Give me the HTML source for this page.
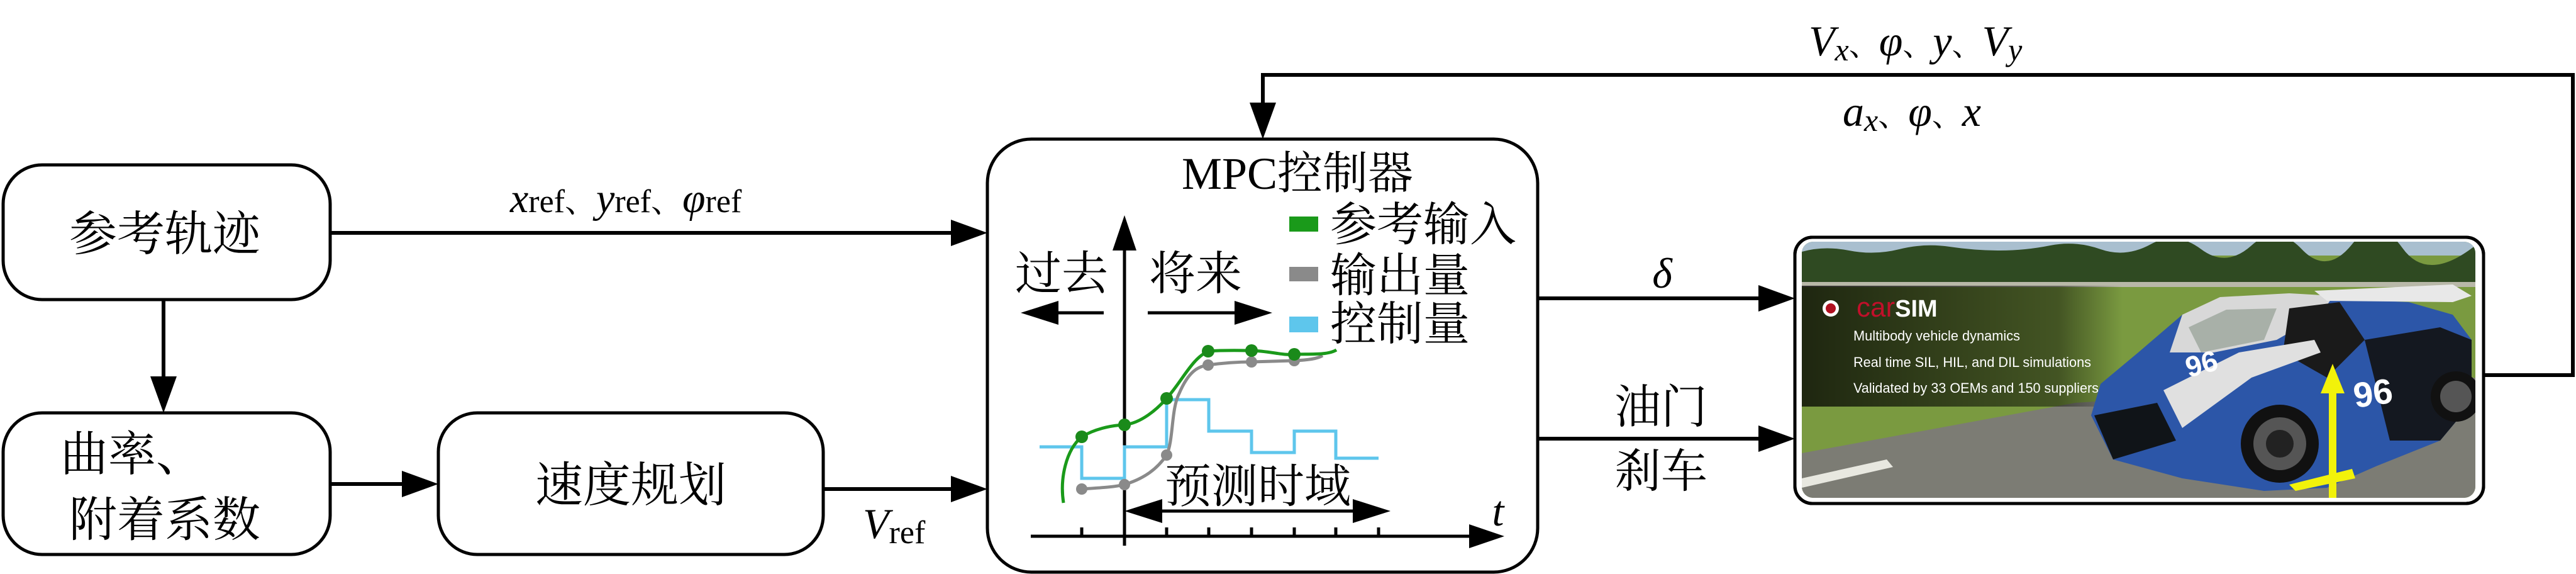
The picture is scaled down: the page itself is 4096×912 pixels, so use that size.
<!DOCTYPE html>
<html><head><meta charset="utf-8"><style>
html,body{margin:0;padding:0;background:#fff;}
svg{display:block;}
.cn{font-family:"Liberation Serif","Noto Serif CJK SC",serif;}
.it{font-family:"Liberation Serif",serif;font-style:italic;}
.rm{font-family:"Liberation Serif",serif;}
</style></head><body>
<svg width="4096" height="912" viewBox="0 0 4096 912" xmlns="http://www.w3.org/2000/svg">
<defs>
<linearGradient id="ov" x1="0" x2="1" y1="0" y2="0">
<stop offset="0" stop-color="#000" stop-opacity="0.75"/><stop offset="0.8" stop-color="#000" stop-opacity="0.45"/><stop offset="1" stop-color="#000" stop-opacity="0"/>
</linearGradient>
<clipPath id="imgclip"><rect x="2865" y="384" width="1071" height="407" rx="18"/></clipPath>
</defs>

<g fill="none" stroke="#000" stroke-width="5">
<rect x="5" y="262" width="520" height="214" rx="62"/>
<rect x="5" y="656" width="520" height="225" rx="62"/>
<rect x="697" y="656" width="612" height="225" rx="62"/>
<rect x="1570" y="221" width="875" height="688" rx="70"/>
</g>

<g stroke="#000" stroke-width="6" fill="none">
<line x1="525" y1="370" x2="1545" y2="370"/>
<line x1="260" y1="476" x2="260" y2="600"/>
<line x1="525" y1="769" x2="640" y2="769"/>
<line x1="1309" y1="777" x2="1545" y2="777"/>
<line x1="2445" y1="474" x2="2800" y2="474"/>
<line x1="2445" y1="697" x2="2800" y2="697"/>
<polyline points="3947,596 4091,596 4091,119 2008,119 2008,165"/>
</g>
<g fill="#000">
<polygon points="1570,370 1512,349 1512,391"/>
<polygon points="260,656 239,598 281,598"/>
<polygon points="697,769 639,748 639,790"/>
<polygon points="1570,777 1512,756 1512,798"/>
<polygon points="2854,474 2796,453 2796,495"/>
<polygon points="2854,697 2796,676 2796,718"/>
<polygon points="2008,221 1987,163 2029,163"/>
</g>

<text x="262" y="398" class="cn" font-size="76" text-anchor="middle">参考轨迹</text>
<text x="210" y="748" class="cn" font-size="76" text-anchor="middle">曲率、</text>
<text x="262" y="852" class="cn" font-size="76" text-anchor="middle">附着系数</text>
<text x="1003" y="797" class="cn" font-size="76" text-anchor="middle">速度规划</text>

<text x="811" y="337" font-size="66"><tspan class="it">x</tspan><tspan class="rm" font-size="52">ref</tspan><tspan class="cn" font-size="50">、</tspan><tspan class="it">y</tspan><tspan class="rm" font-size="52">ref</tspan><tspan class="cn" font-size="50">、</tspan><tspan class="it">φ</tspan><tspan class="rm" font-size="52">ref</tspan></text>
<text x="1372" y="855" font-size="68"><tspan class="it">V</tspan><tspan class="rm" font-size="52" dy="8">ref</tspan></text>

<text x="2876" y="88" font-size="68"><tspan class="it">V</tspan><tspan class="it" font-size="50" dy="8">x</tspan><tspan class="cn" font-size="48" dy="-8">、</tspan><tspan class="it">φ</tspan><tspan class="cn" font-size="48">、</tspan><tspan class="it">y</tspan><tspan class="cn" font-size="48">、</tspan><tspan class="it">V</tspan><tspan class="it" font-size="50" dy="8">y</tspan></text>
<text x="2930" y="200" font-size="68"><tspan class="it">a</tspan><tspan class="it" font-size="50" dy="8">x</tspan><tspan class="cn" font-size="48" dy="-8">、</tspan><tspan class="it">φ</tspan><tspan class="cn" font-size="48">、</tspan><tspan class="it">x</tspan></text>
<text x="2643" y="457" class="it" font-size="68" text-anchor="middle">δ</text>
<text x="2641" y="672" class="cn" font-size="74" text-anchor="middle">油门</text>
<text x="2641" y="774" class="cn" font-size="74" text-anchor="middle">刹车</text>

<!-- MPC contents -->
<text x="2063" y="300" font-size="72" text-anchor="middle"><tspan class="rm">MPC</tspan><tspan class="cn">控制器</tspan></text>
<g stroke="#000" stroke-width="5" fill="none">
<line x1="1788" y1="867" x2="1788" y2="390"/>
<line x1="1639" y1="852" x2="2345" y2="852"/>
<line x1="1720" y1="838" x2="1720" y2="852"/><line x1="1855" y1="838" x2="1855" y2="852"/>
<line x1="1922" y1="838" x2="1922" y2="852"/><line x1="1990" y1="838" x2="1990" y2="852"/>
<line x1="2058" y1="838" x2="2058" y2="852"/><line x1="2124" y1="838" x2="2124" y2="852"/>
<line x1="2192" y1="838" x2="2192" y2="852"/>
<line x1="1755" y1="497" x2="1670" y2="497"/>
<line x1="1825" y1="497" x2="1980" y2="497"/>
<line x1="1830" y1="812" x2="2170" y2="812"/>
</g>
<g fill="#000">
<polygon points="1788,342 1769,398 1807,398"/>
<polygon points="2392,852 2336,833 2336,871"/>
<polygon points="1623,497 1683,478 1683,516"/>
<polygon points="2023,497 1963,478 1963,516"/>
<polygon points="1788,812 1848,793 1848,831"/>
<polygon points="2211,812 2151,793 2151,831"/>
</g>
<text x="2382" y="835" class="it" font-size="68" text-anchor="middle">t</text>
<text x="1688" y="460" class="cn" font-size="74" text-anchor="middle">过去</text>
<text x="1901" y="460" class="cn" font-size="74" text-anchor="middle">将来</text>
<text x="2000" y="798" class="cn" font-size="74" text-anchor="middle">预测时域</text>
<rect x="2050" y="344" width="46" height="24" fill="#1a9a1a"/>
<rect x="2050" y="424" width="46" height="23" fill="#8a8a8a"/>
<rect x="2050" y="503" width="46" height="25" fill="#5ec6ec"/>
<text x="2115" y="382" class="cn" font-size="74">参考输入</text>
<text x="2115" y="463" class="cn" font-size="74">输出量</text>
<text x="2115" y="540" class="cn" font-size="74">控制量</text>

<polyline fill="none" stroke="#5ec6ec" stroke-width="5" points="1653,710 1720,710 1720,760 1788,760 1788,710 1855,710 1855,635 1922,635 1922,685 1990,685 1990,719 2058,719 2058,685 2124,685 2124,728 2192,728"/>
<path fill="none" stroke="#8a8a8a" stroke-width="5" d="M1720,777 C1750,775 1770,774 1788,770 C1820,760 1840,745 1855,723 C1866,700 1862,650 1875,625 C1890,590 1905,582 1921,580 C1950,576 1970,575 1990,575 L2058,573 C2080,572 2095,570 2103,565"/>
<path fill="none" stroke="#1a9a1a" stroke-width="5" d="M1691,799 C1685,760 1695,715 1720,694 C1740,682 1765,676 1788,675 C1815,672 1840,650 1855,633 C1880,605 1895,570 1921,558 C1950,556 1970,557 1990,557 C2020,558 2040,565 2058,563 C2080,562 2110,565 2125,556"/>
<g fill="#8a8a8a"><circle cx="1720" cy="777" r="9"/><circle cx="1788" cy="770" r="9"/><circle cx="1855" cy="723" r="9"/><circle cx="1921" cy="580" r="9"/><circle cx="1990" cy="575" r="9"/><circle cx="2058" cy="573" r="9"/></g>
<g fill="#1a8a1a"><circle cx="1720" cy="694" r="10"/><circle cx="1788" cy="675" r="10"/><circle cx="1855" cy="633" r="10"/><circle cx="1921" cy="558" r="10"/><circle cx="1990" cy="557" r="10"/><circle cx="2058" cy="563" r="10"/></g>

<!-- CarSim image -->
<rect x="2854" y="377" width="1095" height="423" rx="28" fill="#fff" stroke="#000" stroke-width="5"/>
<g clip-path="url(#imgclip)">
<rect x="2865" y="384" width="1071" height="407" fill="#7a9a40"/>
<rect x="2865" y="384" width="1071" height="22" fill="#a9bfcf"/>
<path d="M2865,400 Q2900,390 2940,398 T3020,396 T3100,392 T3180,398 T3260,390 T3340,396 T3420,388 T3500,396 T3580,390 T3660,396 T3740,388 T3820,394 T3936,390 L3936,452 L2865,452 Z" fill="#2f4a22"/>
<rect x="2865" y="448" width="1071" height="8" fill="#b8b8a8"/>
<polygon points="2865,720 3300,640 3936,600 3936,791 2865,791" fill="#7c7c74"/>
<polygon points="2865,760 3000,730 3010,742 2865,775" fill="#e8e8e0"/>
<rect x="2865" y="454" width="510" height="192" fill="url(#ov)"/>
<circle cx="2911" cy="490" r="13" fill="#fff"/><circle cx="2911" cy="490" r="8" fill="#b01020"/>
<text x="2952" y="503" font-family="Liberation Sans,sans-serif" font-size="44"><tspan fill="#c0102a">car</tspan><tspan fill="#fff" font-weight="bold" font-size="38">SIM</tspan></text>
<g font-family="Liberation Sans,sans-serif" font-size="22" fill="#fff">
<text x="2947" y="541" textLength="265" lengthAdjust="spacingAndGlyphs">Multibody vehicle dynamics</text>
<text x="2947" y="583" textLength="378" lengthAdjust="spacingAndGlyphs">Real time SIL, HIL, and DIL simulations</text>
<text x="2947" y="624" textLength="390" lengthAdjust="spacingAndGlyphs">Validated by 33 OEMs and 150 suppliers</text>
</g>
<!-- car -->
<polygon points="3325,660 3340,610 3400,560 3470,500 3560,480 3640,478 3740,476 3830,480 3900,500 3930,540 3930,640 3880,700 3780,740 3700,775 3600,780 3470,760 3360,730" fill="#2c56a8"/>
<polygon points="3470,500 3530,472 3640,466 3710,470 3690,500 3620,540 3520,560 3450,560" fill="#d8d8d8"/>
<polygon points="3480,520 3540,492 3620,490 3600,540 3500,560" fill="#a8b0a8"/>
<polygon points="3640,490 3720,480 3760,540 3700,600 3630,560" fill="#1a1a1a"/>
<polygon points="3440,620 3560,560 3680,540 3690,560 3580,600 3470,680" fill="#e0e0e0"/>
<polygon points="3760,540 3880,520 3930,540 3930,640 3880,700 3800,700" fill="#141820"/>
<polygon points="3680,462 3900,452 3930,470 3900,480 3700,478" fill="#e8e8e8"/>
<polygon points="3330,660 3430,640 3460,700 3360,730" fill="#101418"/>
<circle cx="3625" cy="705" r="62" fill="#111"/><circle cx="3625" cy="705" r="42" fill="#555"/><circle cx="3625" cy="705" r="22" fill="#222"/>
<circle cx="3905" cy="630" r="40" fill="#111"/><circle cx="3905" cy="630" r="25" fill="#555"/>
<text x="3480" y="600" font-family="Liberation Sans,sans-serif" font-weight="bold" font-size="46" fill="#fff" transform="rotate(-15 3480 600)">96</text>
<text x="3745" y="648" font-family="Liberation Sans,sans-serif" font-weight="bold" font-size="56" fill="#fff" transform="rotate(-8 3745 648)">96</text>
<rect x="3703" y="620" width="12" height="175" fill="#f2f20a"/>
<polygon points="3709,578 3690,625 3728,625" fill="#f2f20a"/>
<polygon points="3640,770 3740,745 3745,760 3650,780" fill="#f2f20a"/>
</g>
<rect x="2854" y="377" width="1095" height="423" rx="28" fill="none" stroke="#000" stroke-width="5"/>
</svg>
</body></html>
